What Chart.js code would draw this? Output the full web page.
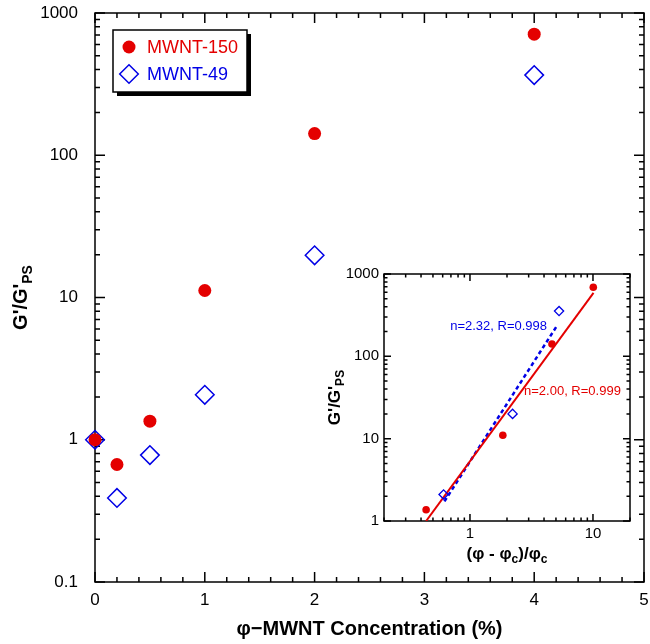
<!DOCTYPE html>
<html lang="en">
<head>
<meta charset="UTF-8">
<title>G'/G'PS vs MWNT concentration</title>
<script src="https://cdn.jsdelivr.net/npm/chart.js"></script>
<style>
  body { margin: 0; background: #fff; }
  #wrap { position: relative; width: 650px; height: 644px; }
  #mainChart { position: absolute; left: 0; top: 0; }
  #insetChart { position: absolute; left: 300px; top: 255px; }
</style>
</head>
<body>
<div id="wrap">
  <canvas id="mainChart" width="650" height="644"></canvas>
  <canvas id="insetChart" width="350" height="320"></canvas>
</div>
<script>
// main plot: G'/G'PS against MWNT concentration (%)
const conc = [0, 0.2, 0.5, 1, 2, 4];
const ratio150 = [1.0, 0.67, 1.35, 11.2, 142, 710];
const ratio49 = [1.0, 0.39, 0.78, 2.07, 19.8, 366];
const mainXTicks = [0, 1, 2, 3, 4, 5];
const mainYTicks = [0.1, 1, 10, 100, 1000];

// inset: power law scaling against (phi - phic)/phic
const red150X = [0.44, 1.85, 4.64, 10.06];
const red150Y = [1.37, 11, 141, 690];
const blue49X = [0.61, 2.22, 5.3];
const blue49Y = [2.1, 20, 355];
const fit150X = [0.44, 10.1];
const fit150Y = [1.0, 590];
const fit49X = [0.62, 5.15];
const fit49Y = [1.73, 241];
const insetXTicks = [1, 10];
const insetYTicks = [1, 10, 100, 1000];
const fitLabels = ['n=2.00, R=0.999', 'n=2.32, R=0.998'];
const fitLabelAt = [[2.75, 37], [0.69, 234]];

const RED = 'rgb(228,0,0)';
const BLUE = 'rgb(0,0,230)';
const FONT = '"Liberation Sans", Arial, Helvetica, sans-serif';

const pts = (xs, ys) => xs.map((x, i) => ({ x: x, y: ys[i] }));

// tick mark lists (value, length) - marks point inwards on all 4 sides
function linTicks(min, max, step, every, major, minor) {
  const out = [];
  const n = Math.round((max - min) / step);
  for (let i = 0; i <= n; i++) out.push([min + i * step, i % every === 0 ? major : minor]);
  return out;
}
function logTicks(min, max, major, minor) {
  const out = [];
  for (let d = Math.pow(10, Math.floor(Math.log10(min))); d <= max * 1.0001; d *= 10) {
    for (let m = 1; m <= 9; m++) {
      const v = +(m * d).toPrecision(4);
      if (v < min * 0.9999 || v > max * 1.0001) continue;
      out.push([v, m === 1 ? major : minor]);
    }
  }
  return out;
}

function drawFrame(chart, xt, yt) {
  const { ctx, chartArea: a, scales } = chart;
  ctx.save();
  ctx.strokeStyle = '#000';
  ctx.lineWidth = 1.5;
  ctx.strokeRect(a.left, a.top, a.right - a.left, a.bottom - a.top);
  ctx.beginPath();
  xt.forEach(([v, len]) => {
    const p = scales.x.getPixelForValue(v);
    ctx.moveTo(p, a.bottom); ctx.lineTo(p, a.bottom - len);
    ctx.moveTo(p, a.top); ctx.lineTo(p, a.top + len);
  });
  yt.forEach(([v, len]) => {
    const p = scales.y.getPixelForValue(v);
    ctx.moveTo(a.left, p); ctx.lineTo(a.left + len, p);
    ctx.moveTo(a.right, p); ctx.lineTo(a.right - len, p);
  });
  ctx.stroke();
  ctx.restore();
}

// text with subscripts, centred on x; parts = [text, size, baseline shift]
function drawSub(ctx, parts, x, y) {
  let w = 0;
  parts.forEach(p => { ctx.font = 'bold ' + p[1] + 'px ' + FONT; w += ctx.measureText(p[0]).width; });
  let cx = x - w / 2;
  ctx.textAlign = 'left';
  ctx.textBaseline = 'alphabetic';
  parts.forEach(p => {
    ctx.font = 'bold ' + p[1] + 'px ' + FONT;
    ctx.fillText(p[0], cx, y + p[2]);
    cx += ctx.measureText(p[0]).width;
  });
}

// fixed axis sizes, no extra room for overflowing end labels
function fixX(h) {
  return s => { s.height = h; s.paddingLeft = 0; s.paddingRight = 0; };
}
function fixY(w) {
  return s => { s.width = w; s.paddingTop = 0; s.paddingBottom = 0; };
}

const mainPlugin = {
  id: 'mainFrame',
  beforeDatasetsDraw(chart) {
    drawFrame(chart, linTicks(0, 5, 0.2, 5, 10, 5), logTicks(0.1, 1000, 10, 5));
  },
  afterDraw(chart) {
    const ctx = chart.ctx;
    const a = chart.chartArea;
    ctx.save();
    ctx.fillStyle = '#000';
    // y title
    ctx.save();
    ctx.translate(27, (a.top + a.bottom) / 2);
    ctx.rotate(-Math.PI / 2);
    drawSub(ctx, [["G'/G'", 20, 0], ['PS', 14, 5]], 0, 0);
    ctx.restore();
    // x title
    drawSub(ctx, [['\u03c6\u2212MWNT Concentration (%)', 20, 0]], (a.left + a.right) / 2, 635);

    // legend box with drop shadow
    const bx = a.left + 18, by = a.top + 17, bw = 134, bh = 62;
    ctx.fillStyle = '#000';
    ctx.fillRect(bx + 4, by + 4, bw, bh);
    ctx.fillStyle = '#fff';
    ctx.fillRect(bx, by, bw, bh);
    ctx.lineWidth = 1.5;
    ctx.strokeStyle = '#000';
    ctx.strokeRect(bx, by, bw, bh);
    const ds = chart.data.datasets;
    const rows = [by + 17, by + 44];
    ds.forEach((d, i) => {
      const mx = bx + 16, my = rows[i];
      ctx.beginPath();
      if (d.pointStyle === 'circle') {
        ctx.arc(mx, my, d.pointRadius, 0, Math.PI * 2);
        ctx.fillStyle = d.backgroundColor;
        ctx.fill();
      } else {
        const r = d.pointRadius;
        ctx.moveTo(mx, my - r); ctx.lineTo(mx + r, my);
        ctx.lineTo(mx, my + r); ctx.lineTo(mx - r, my);
        ctx.closePath();
        ctx.lineWidth = d.borderWidth;
        ctx.strokeStyle = d.borderColor;
        ctx.stroke();
      }
      ctx.fillStyle = d.borderColor;
      ctx.font = '18px ' + FONT;
      ctx.textAlign = 'left';
      ctx.textBaseline = 'middle';
      ctx.fillText(d.label, bx + 34, my + 1);
    });
    ctx.restore();
  }
};

new Chart(document.getElementById('mainChart'), {
  type: 'scatter',
  data: {
    datasets: [
      { label: 'MWNT-150', data: pts(conc, ratio150), pointStyle: 'circle', pointRadius: 6.5,
        backgroundColor: RED, borderColor: RED, borderWidth: 0, clip: false },
      { label: 'MWNT-49', data: pts(conc, ratio49), pointStyle: 'rectRot', pointRadius: 9.3,
        backgroundColor: 'rgba(0,0,0,0)', borderColor: BLUE, borderWidth: 1.5, clip: false }
    ]
  },
  options: {
    responsive: false,
    animation: false,
    events: [],
    layout: { autoPadding: false, padding: { top: 13, right: 6, left: 0, bottom: 0 } },
    plugins: { legend: { display: false }, tooltip: { enabled: false } },
    scales: {
      x: {
        type: 'linear', min: 0, max: 5,
        afterFit: fixX(62),
        afterBuildTicks: s => { s.ticks = mainXTicks.map(v => ({ value: v })); },
        grid: { display: false, drawTicks: false },
        border: { display: false },
        ticks: { color: '#000', font: { family: FONT, size: 17 }, padding: 8, maxRotation: 0, autoSkip: false,
          callback: v => String(v) }
      },
      y: {
        type: 'logarithmic', min: 0.1, max: 1000,
        afterFit: fixY(95),
        afterBuildTicks: s => { s.ticks = mainYTicks.map(v => ({ value: v })); },
        grid: { display: false, drawTicks: false },
        border: { display: false },
        ticks: { color: '#000', font: { family: FONT, size: 17 }, padding: 17, autoSkip: false,
          callback: v => String(v) }
      }
    }
  },
  plugins: [mainPlugin]
});

const insetPlugin = {
  id: 'insetFrame',
  beforeDatasetsDraw(chart) {
    drawFrame(chart, logTicks(0.2, 20, 7, 3.5), logTicks(1, 1000, 7, 3.5));
  },
  afterDatasetsDraw(chart) {
    const ctx = chart.ctx;
    const { x, y } = chart.scales;
    ctx.save();
    ctx.font = '13px ' + FONT;
    ctx.textAlign = 'left';
    ctx.textBaseline = 'middle';
    [RED, BLUE].forEach((c, i) => {
      ctx.fillStyle = c;
      ctx.fillText(fitLabels[i], x.getPixelForValue(fitLabelAt[i][0]), y.getPixelForValue(fitLabelAt[i][1]));
    });
    ctx.restore();
  },
  afterDraw(chart) {
    const ctx = chart.ctx;
    const a = chart.chartArea;
    ctx.save();
    ctx.fillStyle = '#000';
    ctx.save();
    ctx.translate(40, (a.top + a.bottom) / 2);
    ctx.rotate(-Math.PI / 2);
    drawSub(ctx, [["G'/G'", 17, 0], ['PS', 12, 4]], 0, 0);
    ctx.restore();
    drawSub(ctx, [['(\u03c6 - \u03c6', 17, 0], ['c', 12, 4], [')/\u03c6', 17, 0], ['c', 12, 4]],
      (a.left + a.right) / 2, 304);
    ctx.restore();
  }
};

new Chart(document.getElementById('insetChart'), {
  type: 'scatter',
  data: {
    datasets: [
      { label: 'MWNT-150', data: pts(red150X, red150Y), pointStyle: 'circle', pointRadius: 3.8,
        backgroundColor: RED, borderColor: RED, borderWidth: 0, clip: false },
      { label: 'MWNT-49', data: pts(blue49X, blue49Y), pointStyle: 'rectRot', pointRadius: 4.6,
        backgroundColor: 'rgba(0,0,0,0)', borderColor: BLUE, borderWidth: 1.3, clip: false },
      { label: 'fit 150', data: pts(fit150X, fit150Y), showLine: true, pointRadius: 0,
        borderColor: RED, borderWidth: 2 },
      { label: 'fit 49', data: pts(fit49X, fit49Y), showLine: true, pointRadius: 0,
        borderColor: BLUE, borderWidth: 2.5, borderDash: [4, 3] }
    ]
  },
  options: {
    responsive: false,
    animation: false,
    events: [],
    layout: { autoPadding: false, padding: { top: 19, right: 20, left: 0, bottom: 0 } },
    plugins: { legend: { display: false }, tooltip: { enabled: false } },
    scales: {
      x: {
        type: 'logarithmic', min: 0.2, max: 20,
        afterFit: fixX(54),
        afterBuildTicks: s => { s.ticks = insetXTicks.map(v => ({ value: v })); },
        grid: { display: false, drawTicks: false },
        border: { display: false },
        ticks: { color: '#000', font: { family: FONT, size: 15 }, padding: 4, maxRotation: 0, autoSkip: false,
          callback: v => String(v) }
      },
      y: {
        type: 'logarithmic', min: 1, max: 1000,
        afterFit: fixY(84),
        afterBuildTicks: s => { s.ticks = insetYTicks.map(v => ({ value: v })); },
        grid: { display: false, drawTicks: false },
        border: { display: false },
        ticks: { color: '#000', font: { family: FONT, size: 15 }, padding: 5, autoSkip: false,
          callback: v => String(v) }
      }
    }
  },
  plugins: [insetPlugin]
});
</script>
</body>
</html>
